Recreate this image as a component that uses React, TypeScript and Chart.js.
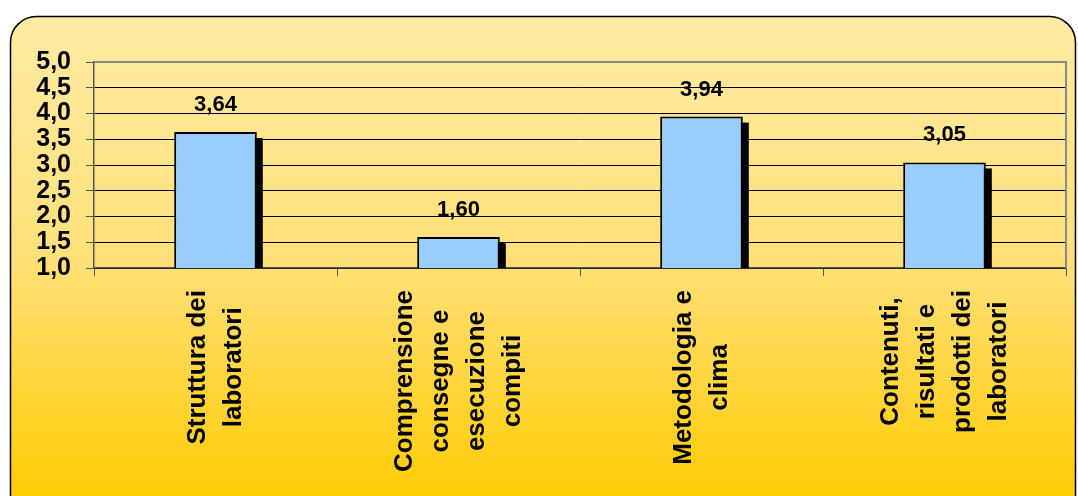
import React, { useEffect, useRef } from "react";
import { Chart, registerables } from "chart.js";

Chart.register(...registerables);

const categories: string[][] = [
  ["Struttura dei", "laboratori"],
  ["Comprensione", "consegne e", "esecuzione", "compiti"],
  ["Metodologia e", "clima"],
  ["Contenuti,", "risultati e", "prodotti dei", "laboratori"],
];
const values: number[] = [3.64, 1.6, 3.94, 3.05];
const yMin = 1;
const yMax = 5;
const yStep = 0.5;

const FONT = "'Liberation Sans', Arial, sans-serif";
const fmt = (v: number, d: number) => v.toFixed(d).replace(".", ",");

const framePlugin = {
  id: "frame",
  beforeDraw(chart: any) {
    const ctx = chart.ctx;
    const w = chart.width;
    const h = chart.height;
    ctx.save();
    ctx.fillStyle = "#ffffff";
    ctx.fillRect(0, 0, w, h);
    const x0 = 10.5, y0 = 16.5, x1 = 1075.5, y1 = 540, r = 26;
    const g = ctx.createLinearGradient(0, y0, 0, 496);
    g.addColorStop(0, "#FFEBA4");
    g.addColorStop(0.5, "#FFE07A");
    g.addColorStop(1, "#FFCC05");
    ctx.beginPath();
    ctx.moveTo(x0 + r, y0);
    ctx.lineTo(x1 - r, y0);
    ctx.arcTo(x1, y0, x1, y0 + r, r);
    ctx.lineTo(x1, y1);
    ctx.lineTo(x0, y1);
    ctx.lineTo(x0, y0 + r);
    ctx.arcTo(x0, y0, x0 + r, y0, r);
    ctx.closePath();
    ctx.fillStyle = g;
    ctx.fill();
    ctx.lineWidth = 1.5;
    ctx.strokeStyle = "#000000";
    ctx.stroke();
    ctx.restore();
  },
  beforeDatasetsDraw(chart: any) {
    const ctx = chart.ctx;
    const a = chart.chartArea;
    ctx.save();
    ctx.strokeStyle = "#8a8a8a";
    ctx.lineWidth = 2;
    ctx.beginPath();
    ctx.moveTo(a.left, a.top);
    ctx.lineTo(a.right, a.top);
    ctx.lineTo(a.right, a.bottom);
    ctx.stroke();
    // bar shadows
    ctx.beginPath();
    ctx.rect(a.left, a.top, a.right - a.left, a.bottom - a.top);
    ctx.clip();
    ctx.fillStyle = "#000000";
    const meta = chart.getDatasetMeta(0);
    meta.data.forEach((bar: any) => {
      const left = bar.x - bar.width / 2;
      const top = Math.min(bar.y, bar.base);
      const h = Math.abs(bar.base - bar.y);
      ctx.fillRect(left + 6, top + 6, bar.width, h);
    });
    ctx.restore();
  },
  afterDatasetsDraw(chart: any) {
    const ctx = chart.ctx;
    const meta = chart.getDatasetMeta(0);
    ctx.save();
    ctx.fillStyle = "#000000";
    ctx.font = `bold 22px ${FONT}`;
    ctx.textAlign = "center";
    ctx.textBaseline = "middle";
    meta.data.forEach((bar: any, i: number) => {
      ctx.fillText(fmt(values[i], 2), bar.x, bar.y - 27);
    });
    ctx.restore();
  },
  afterDraw(chart: any) {
    const ctx = chart.ctx;
    const xs = chart.scales.x;
    const a = chart.chartArea;
    ctx.save();
    ctx.fillStyle = "#000000";
    ctx.font = `bold 26px ${FONT}`;
    ctx.textAlign = "center";
    ctx.textBaseline = "middle";
    const lineH = 36;
    categories.forEach((lines, i) => {
      const x = xs.getPixelForTick(i);
      const maxW = Math.max(...lines.map((l) => ctx.measureText(l).width));
      const yc = a.bottom + 22 + maxW / 2;
      ctx.save();
      ctx.translate(x, yc);
      ctx.rotate(-Math.PI / 2);
      lines.forEach((l, j) => {
        ctx.fillText(l, 0, (j - (lines.length - 1) / 2) * lineH);
      });
      ctx.restore();
    });
    ctx.restore();
  },
};

export default function App() {
  const ref = useRef<HTMLCanvasElement | null>(null);
  useEffect(() => {
    if (!ref.current) return;
    const chart = new Chart(ref.current, {
      type: "bar",
      data: {
        labels: categories.map((c) => c.join(" ")),
        datasets: [
          {
            data: values,
            backgroundColor: "#99CCFF",
            borderColor: "#000000",
            borderWidth: 2,
            borderSkipped: false,
            categoryPercentage: 1,
            barPercentage: 0.34,
          },
        ],
      },
      options: {
        animation: false,
        responsive: false,
        devicePixelRatio: 1,
        layout: { padding: { left: 10, right: 12, top: 62, bottom: 0 } },
        plugins: {
          legend: { display: false },
          tooltip: { enabled: false },
        },
        scales: {
          x: {
            offset: true,
            grid: {
              display: true,
              offset: true,
              drawOnChartArea: false,
              drawTicks: true,
              tickLength: 8,
              color: "#555555",
            },
            border: { display: true, color: "#555555", width: 1.5 },
            ticks: { display: false },
            afterFit(scale: any) {
              scale.height = 228;
            },
          },
          y: {
            min: yMin,
            max: yMax,
            grid: {
              color: (c: any) => (c.tick && c.tick.value === yMax ? "rgba(0,0,0,0)" : "#000000"),
              lineWidth: 1,
              drawTicks: true,
              tickLength: 8,
              tickColor: "#555555",
            },
            border: { display: true, color: "#555555", width: 1.5 },
            ticks: {
              stepSize: yStep,
              autoSkip: false,
              padding: 15,
              color: "#000000",
              font: { family: FONT, size: 25, weight: "bold" },
              callback: (v: any) => fmt(Number(v), 1),
            },
            afterFit(scale: any) {
              scale.width = 84;
            },
          },
        },
      },
      plugins: [framePlugin],
    } as any);
    return () => chart.destroy();
  }, []);
  return (
    <canvas
      ref={ref}
      width={1078}
      height={496}
      style={{ position: "fixed", left: 0, top: 0, width: 1078, height: 496 }}
    />
  );
}
